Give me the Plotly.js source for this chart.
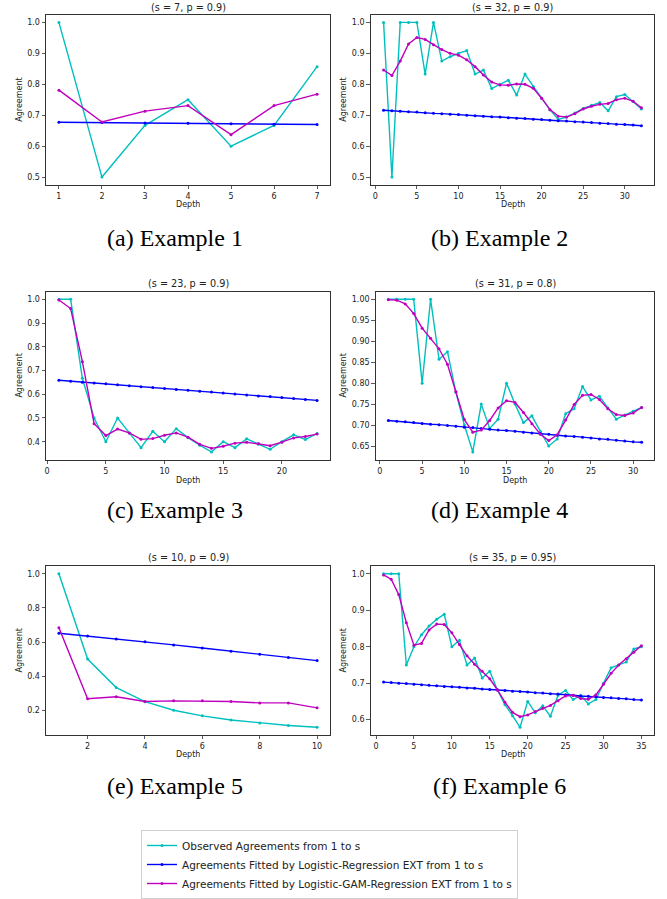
<!DOCTYPE html>
<html>
<head>
<meta charset="utf-8">
<script src="https://cdn.plot.ly/plotly-3.0.1.min.js"></script>
<style>html,body{margin:0;padding:0;background:#fff;}#chart{width:667px;height:899px;}</style>
</head>
<body>
<div id="chart"></div>
<script>
// ---------- data ----------
const seriesNames = ["Observed Agreements from 1 to s",
  "Agreements Fitted by Logistic-Regression EXT from 1 to s",
  "Agreements Fitted by Logistic-GAM-Regression EXT from 1 to s"];
const subplotTitles = ["(s = 7, p = 0.9)", "(s = 32, p = 0.9)", "(s = 23, p = 0.9)",
  "(s = 31, p = 0.8)", "(s = 10, p = 0.9)", "(s = 35, p = 0.95)"];
const captions = ["(a) Example 1", "(b) Example 2", "(c) Example 3",
  "(d) Example 4", "(e) Example 5", "(f) Example 6"];

const depth1 = [1,2,3,4,5,6,7];
const obs1 = [1.0,0.5,0.667,0.75,0.6,0.667,0.857];
const lr1  = [0.677,0.676,0.675,0.674,0.672,0.671,0.670];
const gam1 = [0.781,0.678,0.713,0.731,0.637,0.731,0.768];

const depth2 = [1,2,3,4,5,6,7,8,9,10,11,12,13,14,15,16,17,18,19,20,21,22,23,24,25,26,27,28,29,30,31,32];
const obs2 = [1.0,0.5,1.0,1.0,1.0,0.833,1.0,0.875,0.889,0.9,0.909,0.833,0.846,0.786,0.8,0.813,
  0.765,0.833,0.793,0.755,0.718,0.686,0.694,0.707,0.722,0.732,0.741,0.714,0.760,0.767,0.745,0.720];
const lr2  = [0.716,0.714,0.713,0.711,0.710,0.708,0.706,0.705,0.703,0.702,0.700,0.698,0.697,0.695,0.694,0.692,
  0.690,0.689,0.687,0.686,0.684,0.682,0.681,0.679,0.678,0.676,0.674,0.673,0.671,0.670,0.668,0.666];
const gam2 = [0.846,0.828,0.875,0.930,0.951,0.945,0.928,0.912,0.900,0.894,0.879,0.857,0.830,0.807,0.798,0.797,
  0.801,0.800,0.787,0.755,0.718,0.697,0.694,0.705,0.720,0.729,0.735,0.738,0.750,0.755,0.745,0.724];

const depth3 = [1,2,3,4,5,6,7,8,9,10,11,12,13,14,15,16,17,18,19,20,21,22,23];
const obs3 = [1.0,1.0,0.667,0.5,0.4,0.5,0.437,0.375,0.444,0.4,0.455,0.417,0.385,0.357,0.4,0.375,
  0.412,0.389,0.368,0.4,0.429,0.409,0.435];
const lr3  = [0.659,0.655,0.651,0.647,0.644,0.640,0.636,0.632,0.628,0.624,0.620,0.617,0.613,0.609,0.605,0.601,
  0.597,0.593,0.590,0.586,0.582,0.578,0.574];
const gam3 = [0.997,0.961,0.737,0.476,0.426,0.453,0.437,0.410,0.413,0.427,0.437,0.419,0.389,0.372,0.381,0.394,
  0.398,0.392,0.383,0.398,0.416,0.422,0.432];

const depth4 = [1,2,3,4,5,6,7,8,9,10,11,12,13,14,15,16,17,18,19,20,21,22,23,24,25,26,27,28,29,30,31];
const obs4 = [1.0,1.0,1.0,1.0,0.8,1.0,0.857,0.875,0.778,0.7,0.636,0.75,0.692,0.714,0.8,0.75,
  0.706,0.722,0.685,0.65,0.667,0.727,0.739,0.792,0.76,0.769,0.741,0.714,0.724,0.733,0.742];
const lr4  = [0.711,0.709,0.708,0.706,0.704,0.702,0.701,0.699,0.697,0.695,0.694,0.692,0.690,0.688,0.687,0.685,
  0.683,0.681,0.680,0.678,0.676,0.674,0.673,0.671,0.669,0.667,0.666,0.664,0.662,0.660,0.659];
const gam4 = [0.999,0.998,0.989,0.966,0.931,0.907,0.882,0.845,0.780,0.713,0.683,0.688,0.711,0.741,0.758,0.754,
  0.730,0.703,0.678,0.663,0.677,0.712,0.749,0.771,0.773,0.761,0.739,0.725,0.723,0.729,0.742];

const depth5 = [1,2,3,4,5,6,7,8,9,10];
const obs5 = [1.0,0.5,0.333,0.25,0.2,0.167,0.143,0.125,0.111,0.1];
const lr5  = [0.651,0.635,0.618,0.601,0.583,0.565,0.546,0.528,0.509,0.491];
const gam5 = [0.684,0.268,0.279,0.251,0.255,0.255,0.251,0.243,0.243,0.214];

const depth6 = [1,2,3,4,5,6,7,8,9,10,11,12,13,14,15,16,17,18,19,20,21,22,23,24,25,26,27,28,29,30,31,32,33,34,35];
const obs6 = [1.0,1.0,1.0,0.75,0.8,0.833,0.857,0.875,0.889,0.8,0.818,0.75,0.769,0.714,0.733,0.682,
  0.641,0.611,0.579,0.65,0.619,0.638,0.609,0.667,0.68,0.655,0.667,0.643,0.655,0.7,0.742,0.75,0.758,0.794,0.8];
const lr6  = [0.703,0.702,0.700,0.699,0.697,0.696,0.694,0.693,0.691,0.690,0.689,0.687,0.686,0.684,0.683,0.681,
  0.680,0.678,0.677,0.676,0.674,0.673,0.671,0.670,0.668,0.667,0.665,0.664,0.663,0.661,0.660,0.658,0.657,0.655,0.654];
const gam6 = [0.997,0.985,0.943,0.866,0.804,0.809,0.846,0.862,0.861,0.838,0.806,0.775,0.752,0.733,0.712,0.682,
  0.648,0.620,0.608,0.613,0.622,0.631,0.639,0.652,0.665,0.667,0.658,0.656,0.668,0.697,0.727,0.750,0.767,0.785,0.803];

const xTickStep = [1,5,5,5,2,5];
const yTickStep = [0.1,0.1,0.1,0.05,0.2,0.1];
const yTickFormat = [".1f",".1f",".1f",".2f",".1f",".1f"];

// ---------- layout geometry (pixels) ----------
const W = 667, H = 899;
const boxes = [ // left, right, top, bottom in px
  [46,330,15,189],[370.7,654.3,15,189],
  [46,330,298.3,470],[375.7,654.3,298.3,470],
  [46,330,579,751.7],[370.7,654.3,579,751.7]];
const ytitleX = [20,344,20,344,20,344];
const titleY = [8,8,290,290,570,570];
const xtitleY = [209,209,491,491,772,772];
const captionPos = [[175,243],[500,243],[175,522],[500,522],[175,804],[500,804]];

const colors = ["#00bfbf","#0000ff","#bf00bf"];
const sets = [
  [depth1,obs1,lr1,gam1],[depth2,obs2,lr2,gam2],[depth3,obs3,lr3,gam3],
  [depth4,obs4,lr4,gam4],[depth5,obs5,lr5,gam5],[depth6,obs6,lr6,gam6]];

const px = v => v / W;
const py = v => 1 - v / H;

const traces = [];
const layout = {
  width: W, height: H,
  margin: {l:0,r:0,t:0,b:0},
  paper_bgcolor: "#fff", plot_bgcolor: "#fff",
  font: {family: "DejaVu Sans", size: 8, color: "#222"},
  showlegend: true,
  legend: {
    x: px(141), y: py(849), xanchor: "left", yanchor: "top",
    bgcolor: "#fff", bordercolor: "#d0d0d0", borderwidth: 1,
    font: {family: "DejaVu Sans", size: 10.5, color: "#222"},
    itemwidth: 30, tracegroupgap: 0
  },
  annotations: []
};

function pad(mn, mx){ const r = mx - mn; return [mn - 0.05*r, mx + 0.05*r]; }

sets.forEach((s, i) => {
  const [dep, obs, lr, gam] = s;
  const k = i === 0 ? "" : String(i+1);
  const ys = [obs, lr, gam];
  ys.forEach((yy, j) => {
    traces.push({
      x: dep, y: yy, type: "scatter", mode: "lines+markers",
      xaxis: "x" + k, yaxis: "y" + k,
      name: seriesNames[j], showlegend: i === 0,
      line: {color: colors[j], width: 1.4},
      marker: {color: colors[j], size: 3}
    });
  });
  const all = obs.concat(lr, gam);
  const b = boxes[i];
  const axCommon = {
    showline: true, linecolor: "#333", linewidth: 1, mirror: true,
    ticks: "outside", ticklen: 3.5, tickwidth: 0.8, tickcolor: "#333",
    showgrid: false, zeroline: false, fixedrange: true,
    tickfont: {family: "DejaVu Sans", size: 8, color: "#222"}
  };
  layout["xaxis" + k] = Object.assign({}, axCommon, {
    domain: [px(b[0]), px(b[1])], anchor: "y" + k,
    range: pad(dep[0], dep[dep.length-1]), tick0: 0, dtick: xTickStep[i]
  });
  layout["yaxis" + k] = Object.assign({}, axCommon, {
    domain: [py(b[3]), py(b[2])], anchor: "x" + k,
    range: pad(Math.min(...all), Math.max(...all)), tick0: 0, dtick: yTickStep[i],
    tickformat: yTickFormat[i]
  });
  const cx = (b[0] + b[1]) / 2;
  layout.annotations.push({
    text: subplotTitles[i], xref: "paper", yref: "paper", x: px(cx), y: py(titleY[i]),
    xanchor: "center", yanchor: "middle", showarrow: false,
    font: {family: "DejaVu Sans", size: 9.7, color: "#222"}
  });
  layout.annotations.push({
    text: "Depth", xref: "paper", yref: "paper", x: px(cx), y: py(xtitleY[i]),
    xanchor: "center", yanchor: "middle", showarrow: false,
    font: {family: "DejaVu Sans", size: 8, color: "#222"}
  });
  layout.annotations.push({
    text: "Agreement", xref: "paper", yref: "paper", x: px(ytitleX[i]), y: py((b[2]+b[3])/2),
    xanchor: "center", yanchor: "middle", showarrow: false, textangle: -90,
    font: {family: "DejaVu Sans", size: 8, color: "#222"}
  });
  layout.annotations.push({
    text: captions[i], xref: "paper", yref: "paper", x: px(captionPos[i][0]), y: py(captionPos[i][1]),
    xanchor: "center", yanchor: "middle", showarrow: false,
    font: {family: "Liberation Serif", size: 24, color: "#000"}
  });
});

Plotly.newPlot("chart", traces, layout, {displayModeBar: false, staticPlot: true});
</script>
</body>
</html>
